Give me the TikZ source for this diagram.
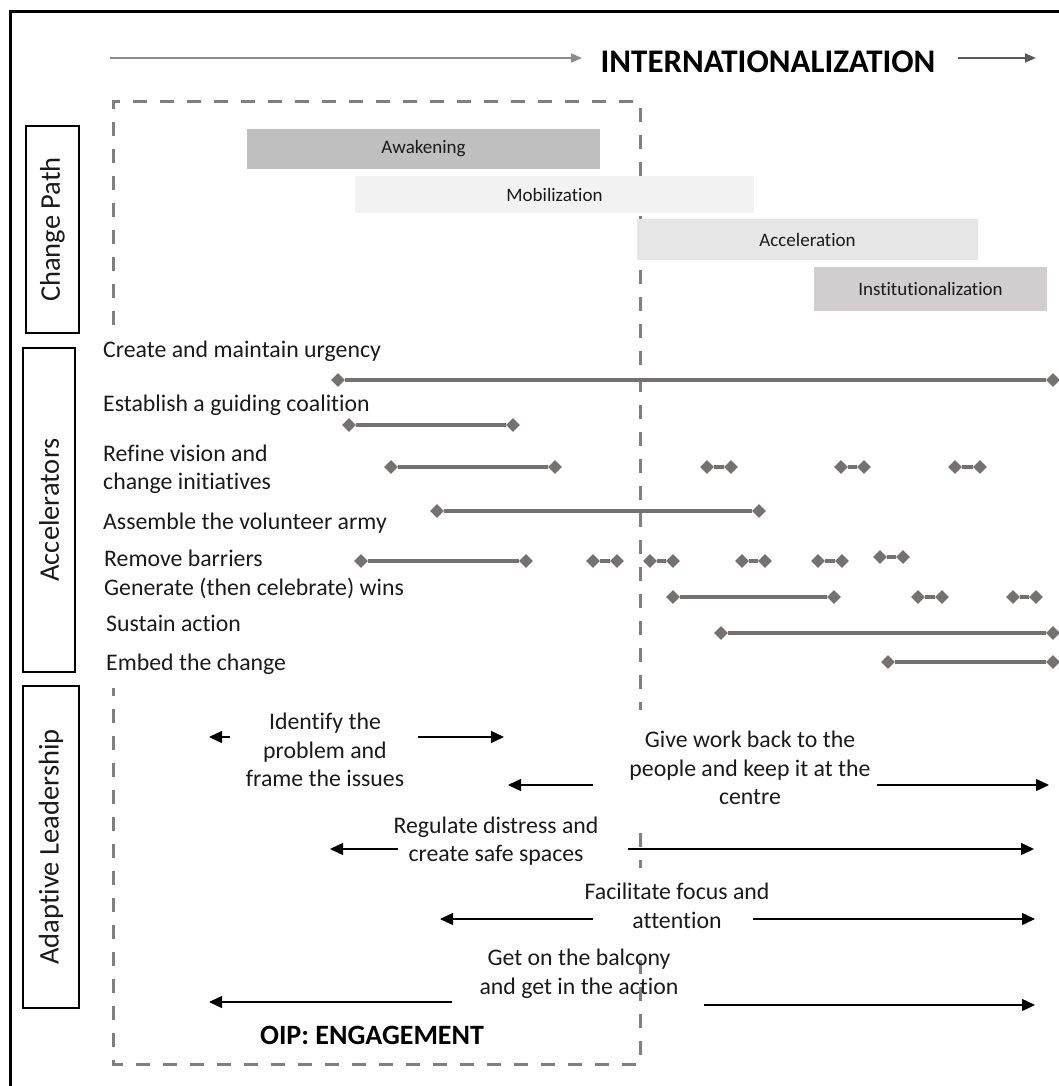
\documentclass[tikz,border=0pt]{standalone}
\usepackage{fontspec}
\setmainfont{Carlito}[Ligatures=NoCommon]
\usetikzlibrary{arrows.meta,shapes.geometric}
\definecolor{txt}{HTML}{1A1A1A}
\definecolor{acc}{HTML}{767171}
\definecolor{dashc}{HTML}{7F7F7F}
\definecolor{awk}{HTML}{BFBFBF}
\definecolor{mob}{HTML}{F2F2F2}
\definecolor{accel}{HTML}{E7E6E6}
\definecolor{inst}{HTML}{D0CECE}
\tikzset{
  lbl/.style={anchor=west, inner sep=0pt, text=txt, align=left,
    font=\fontsize{23.8}{28}\selectfont},
  phase/.style={inner sep=0pt, text=txt, font=\fontsize{19}{22}\selectfont},
  sidebox/.style={draw=black, line width=2.5pt, rotate=90, inner sep=0pt,
    text=txt, font=\fontsize{28.5}{32}\selectfont},
  dia/.style={diamond, fill=acc, inner sep=0pt, minimum width=14pt, minimum height=14pt},
  accline/.style={draw=acc, line width=4pt},
  altext/.style={align=center, inner sep=0pt, text=txt,
    font=\fontsize{23.8}{28.5}\selectfont},
  arr/.style={draw=black, line width=1.4pt, -{Triangle[length=13pt,width=12pt]}},
  boxdash/.style={draw=dashc, line width=3pt, dash pattern=on 14pt off 13pt},
}
\begin{document}
\begin{tikzpicture}[x=1pt,y=-1pt]
\useasboundingbox (0,0) rectangle (1058,1086);

% outer frame (left and top edges)
\draw[line width=3pt] (10,1090) -- (10,12) -- (1062,12);

% internationalization timeline
\coordinate (ia) at (110,58);
\coordinate (ib) at (582,58);
\coordinate (ic) at (958,58);
\coordinate (id) at (1036,58);
\draw[draw=gray!90, line width=1.8pt, -{Triangle[length=11pt,width=9pt]}] (ia) -- (ib);
\node[inner sep=0pt, text=black, font=\bfseries\fontsize{33}{36}\selectfont] (intl) at (768,62) {INTERNATIONALIZATION};
\draw[draw=black!65, line width=1.8pt, -{Triangle[length=11pt,width=9pt]}] (ic) -- (id);

% engagement window (dashed), left side interrupted by the accelerator labels
\draw[boxdash] (113,325) -- (113,102) -- (640,102) -- (640,710);
\draw[boxdash] (640,833) -- (640,868);
\draw[boxdash] (640,960) -- (640,1064) -- (113,1064) -- (113,688);

% section boxes
\node[sidebox, minimum width=207pt, minimum height=53pt] (cp) at (52.5,229.5) {Change Path};
\node[sidebox, minimum width=324pt, minimum height=52pt] (ac) at (49,510) {Accelerators};
\node[sidebox, minimum width=322pt, minimum height=56pt] (al) at (51,847) {Adaptive Leadership};

% change path phases
\node[phase, fill=awk, minimum width=353pt, minimum height=40pt] (p1) at (423.5,149) {Awakening};
\node[phase, fill=mob, minimum width=399pt, minimum height=37pt] (p2) at (554.5,194.5) {Mobilization};
\node[phase, fill=accel, minimum width=341pt, minimum height=41pt] (p3) at (807.5,239.5) {Acceleration};
\node[phase, fill=inst, minimum width=233pt, minimum height=44pt] (p4) at (930.5,289) {Institutionalization};

% accelerator labels
\node[lbl] (l1) at (103,351) {Create and maintain urgency};
\node[lbl] (l2) at (103,405) {Establish a guiding coalition};
\node[lbl] (l3) at (103,469) {Refine vision and\\change initiatives};
\node[lbl] (l4) at (103,523) {Assemble the volunteer army};
\node[lbl] (l5) at (104,558) {Remove barriers};
\node[lbl] (l6) at (104,588) {Generate (then celebrate) wins};
\node[lbl] (l7) at (106,623) {Sustain action};
\node[lbl] (l8) at (106,664) {Embed the change};

% accelerator spans
\foreach \n/\xa/\xb/\y in {
  u/338/1053/380,
  g/349/513/425,
  ra/391/555/467, rb/707/731/467, rc/841/864/467, rd/955/980/467,
  v/437/759/511,
  ba/361/526/561, bb/593/617/561, bc/650/673/561, bd/742/765/561, be/818/842/561, bf/880/903/557,
  wa/673/834/597, wb/918/942/597, wc/1013/1036/597,
  s/721/1053/633,
  e/888/1053/662}{
  \node[dia] (\n1) at (\xa,\y) {};
  \node[dia] (\n2) at (\xb,\y) {};
  \draw[accline] (\n1) -- (\n2);
}

% adaptive leadership practices
\node[altext] (t1) at (325,750) {Identify the\\problem and\\frame the issues};
\coordinate (t1l0) at (230,737); \coordinate (t1l1) at (209,737);
\coordinate (t1r0) at (418,737); \coordinate (t1r1) at (504,737);
\draw[arr] (t1l0) -- (t1l1);
\draw[arr] (t1r0) -- (t1r1);

\node[altext] (t2) at (750,768) {Give work back to the\\people and keep it at the\\centre};
\coordinate (t2l0) at (593,785); \coordinate (t2l1) at (508,785);
\coordinate (t2r0) at (877,785); \coordinate (t2r1) at (1049,785);
\draw[arr] (t2l0) -- (t2l1);
\draw[arr] (t2r0) -- (t2r1);

\node[altext] (t3) at (496,841) {Regulate distress and\\create safe spaces};
\coordinate (t3l0) at (398,849); \coordinate (t3l1) at (330,849);
\coordinate (t3r0) at (628,849); \coordinate (t3r1) at (1034,849);
\draw[arr] (t3l0) -- (t3l1);
\draw[arr] (t3r0) -- (t3r1);

\node[altext] (t4) at (677,906) {Facilitate focus and\\attention};
\coordinate (t4l0) at (593,919); \coordinate (t4l1) at (440,919);
\coordinate (t4r0) at (753,919); \coordinate (t4r1) at (1035,919);
\draw[arr] (t4l0) -- (t4l1);
\draw[arr] (t4r0) -- (t4r1);

\node[altext] (t5) at (579,974) {Get on the balcony\\and get in the action};
\coordinate (t5l0) at (452,1002); \coordinate (t5l1) at (209,1002);
\coordinate (t5r0) at (704,1005); \coordinate (t5r1) at (1035,1005);
\draw[arr] (t5l0) -- (t5l1);
\draw[arr] (t5r0) -- (t5r1);

\node[inner sep=0pt, text=black, font=\bfseries\fontsize{28}{32}\selectfont] (oip) at (372,1035) {OIP: ENGAGEMENT};
\end{tikzpicture}
\end{document}
